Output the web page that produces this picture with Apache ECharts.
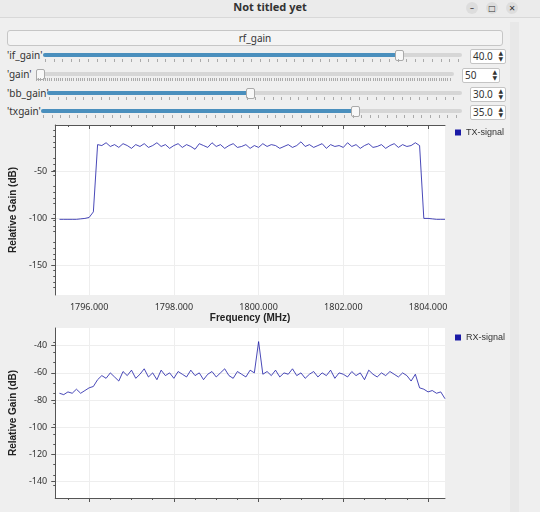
<!DOCTYPE html>
<html><head><meta charset="utf-8">
<script src="https://cdn.jsdelivr.net/npm/echarts@6/dist/echarts.min.js"></script>
<style>
body{margin:0;width:540px;height:512px;overflow:hidden;background:#efefef;font-family:"Noto Sans","DejaVu Sans",sans-serif;font-size:11px;color:#333;position:relative}
#title{position:absolute;left:0;top:0;width:540px;height:17px;background:#ebebeb;border-bottom:1px solid #d8d8d8;text-align:center;font-weight:bold;font-size:11px;line-height:14px;color:#333}
.wb{position:absolute;top:2px;width:12px;height:12px;border-radius:6px;background:#ddd;font-size:8px;line-height:12px;text-align:center}
#btn{position:absolute;left:7px;top:30px;width:494px;height:14px;border:1px solid #c6c6c6;border-radius:3px;background:#f4f4f4;text-align:center;line-height:14px;font-size:10px}
.lab{position:absolute;left:7px;font-size:10px}
.tr{position:absolute;height:4px;background:#d6d6d6;border-radius:2px}
.fill{position:absolute;left:0;top:0;height:4px;background:#4a8fbd;border-radius:2px}
.kn{position:absolute;top:-3px;width:7px;height:9px;background:#f8f8f8;border:1px solid #aaa;border-radius:2px}
.tk{position:absolute;height:3px;border-top:0;background:repeating-linear-gradient(90deg,#aaa 0 1px,transparent 1px 8.6px)}
.sp{position:absolute;left:470px;width:32px;height:13px;background:#fff;border:1px solid #c4c4c4;border-radius:2px;font-size:10px;line-height:13px;padding-left:2px}
.sp span{position:absolute;right:2px;top:0;font-size:6px;line-height:6px}
#sb{position:absolute;left:510px;top:22px;width:9px;height:490px;background:#e8e8e8}
#chart{position:absolute;left:0;top:118px;width:508px;height:394px}
</style></head><body>
<div id="title">Not titled yet</div>
<div class="wb" style="left:466px">–</div><div class="wb" style="left:486px">□</div><div class="wb" style="left:506px">✕</div>
<div id="sb"></div>
<div id="btn">rf_gain</div>
<div class="lab" style="top:48px">'if_gain'</div>
<div class="tr" style="left:43px;top:53px;width:419px"><div class="fill" style="width:354px"></div><div class="kn" style="left:352px"></div></div>
<div class="tk" style="left:45px;top:59px;width:415px"></div>
<div class="sp" style="top:49px">40.0<span>▲<br>▼</span></div>
<div class="lab" style="top:67px">'gain'</div>
<div class="tr" style="left:36px;top:72px;width:418px"><div class="kn" style="left:0px"></div></div>
<div class="tk" style="left:36px;top:78px;width:416px;background:repeating-linear-gradient(90deg,#aaa 0 1px,transparent 1px 2.2px)"></div>
<div class="sp" style="top:68px;left:462px;width:34px">50<span>▲<br>▼</span></div>
<div class="lab" style="top:86px">'bb_gain'</div>
<div class="tr" style="left:47px;top:91px;width:415px"><div class="fill" style="width:201px"></div><div class="kn" style="left:199px"></div></div>
<div class="tk" style="left:49px;top:97px;width:411px"></div>
<div class="sp" style="top:87px">30.0<span>▲<br>▼</span></div>
<div class="lab" style="top:104px">'txgain'</div>
<div class="tr" style="left:41px;top:109px;width:421px"><div class="fill" style="width:312px"></div><div class="kn" style="left:310px"></div></div>
<div class="tk" style="left:43px;top:115px;width:417px"></div>
<div class="sp" style="top:105px">35.0<span>▲<br>▼</span></div>
<div id="chart"></div>
<script>
const xStart = 1795.3, xStep = 0.1;
const xTicks = [1796, 1798, 1800, 1802, 1804];
const txTicks = [-150, -100, -50];
const rxTicks = [-140, -120, -100, -80, -60, -40];
const txValues = [-101,-101,-101,-101,-101,-100.5,-100,-99,-93,-21,
-22,-19,-23,-21,-24,-20,-22,-25,-21,-23,
-20,-24,-22,-19,-23,-21,-25,-22,-20,-24,
-21,-23,-26,-20,-22,-24,-19,-23,-21,-25,
-22,-20,-24,-23,-21,-25,-22,-24,-20,-23,
-21,-22,-25,-23,-21,-24,-22,-18,-23,-21,
-24,-22,-20,-25,-21,-23,-22,-24,-19,-23,
-21,-25,-22,-20,-24,-23,-21,-25,-22,-20,
-24,-21,-23,-22,-19,-22,-100,-100,-100.5,-101,-101,-101];
const rxValues = [-75,-76,-74,-75,-72,-75,-73,-71,-70,-65,
-62,-64,-60,-63,-66,-59,-62,-58,-64,-61,
-57,-63,-60,-65,-58,-62,-60,-64,-59,-61,
-63,-58,-62,-60,-65,-61,-59,-63,-60,-57,
-62,-64,-59,-61,-63,-58,-60,-37,-61,-59,
-62,-58,-63,-60,-61,-57,-62,-60,-64,-61,
-59,-63,-60,-62,-58,-64,-60,-61,-63,-59,
-62,-60,-65,-58,-61,-63,-60,-62,-59,-61,
-63,-60,-62,-66,-61,-71,-72,-74,-73,-75,-74,-79];
const txData = txValues.map((v,i)=>[+(xStart+i*xStep).toFixed(2), v]);
const rxData = rxValues.map((v,i)=>[+(xStart+i*xStep).toFixed(2), v]);
const axFont = {fontSize:9,color:'#333',fontFamily:'Noto Sans'};
function xAx(idx, showLabel){
 return {type:'value',gridIndex:idx,min:1795.2,max:1804.4,
  axisLine:{show:true,lineStyle:{color:'#555'}},axisTick:{show:true,length:4,lineStyle:{color:'#555'},customValues:xTicks},
  minorTick:{show:true,splitNumber:4,length:2,lineStyle:{color:'#555'}},
  splitLine:{show:true,lineStyle:{color:'#eeeeee'}},
  axisLabel:{show:showLabel,...axFont,formatter:v=>v.toFixed(3),customValues:xTicks},
  name:showLabel?'Frequency (MHz)':'',nameLocation:'middle',nameGap:16,nameTextStyle:{fontSize:10,fontWeight:'bold',color:'#222'}};
}
function yAx(idx,min,max,ticks,split){
 return {type:'value',gridIndex:idx,min,max,
  axisLine:{show:true,lineStyle:{color:'#555'}},axisTick:{show:true,length:4,lineStyle:{color:'#555'},customValues:ticks},
  minorTick:{show:true,splitNumber:split,length:2,lineStyle:{color:'#555'}},
  splitLine:{show:true,lineStyle:{color:'#eeeeee'}},
  axisLabel:{...axFont,customValues:ticks},
  name:'Relative Gain (dB)',nameLocation:'middle',nameGap:28,nameTextStyle:{fontSize:10,fontWeight:'bold',color:'#222'}};
}
const chart = echarts.init(document.getElementById('chart'));
chart.setOption({
 animation:false,
 grid:[{left:45,top:7,width:400,height:170,show:true,backgroundColor:'#fff',borderWidth:0},
       {left:45,top:210,width:400,height:170,show:true,backgroundColor:'#fff',borderWidth:0}],
 legend:[{data:['TX-signal'],left:450,top:5,itemWidth:6,itemHeight:6,itemGap:4,icon:'rect',textStyle:{fontSize:9,color:'#333'}},
         {data:['RX-signal'],left:450,top:210,itemWidth:6,itemHeight:6,itemGap:4,icon:'rect',textStyle:{fontSize:9,color:'#333'}}],
 xAxis:[xAx(0,true),xAx(1,false)],
 yAxis:[yAx(0,-182,0,txTicks,5),yAx(1,-152,-27,rxTicks,4)],
 series:[
  {name:'TX-signal',type:'line',xAxisIndex:0,yAxisIndex:0,data:txData,showSymbol:false,lineStyle:{width:0.8,color:'#1a1aa6'},itemStyle:{color:'#1a1aa6'}},
  {name:'RX-signal',type:'line',xAxisIndex:1,yAxisIndex:1,data:rxData,showSymbol:false,lineStyle:{width:0.8,color:'#1a1aa6'},itemStyle:{color:'#1a1aa6'}}
 ]
});
</script></body></html>
